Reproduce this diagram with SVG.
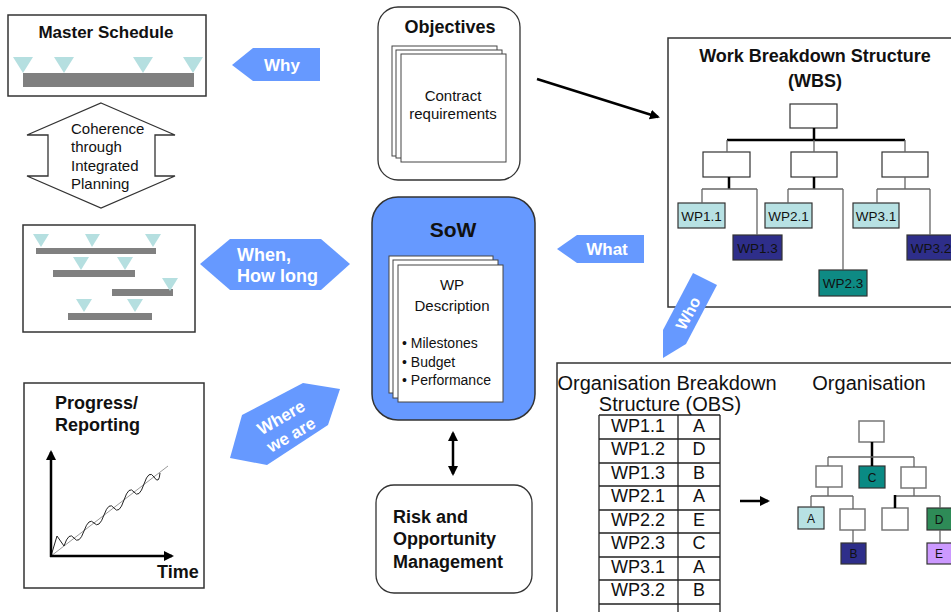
<svg xmlns="http://www.w3.org/2000/svg" width="951" height="612" viewBox="0 0 951 612">
<defs>
<style>
text { font-family: "Liberation Sans", Arial, sans-serif; fill: #111; }
.b { font-weight: bold; }
.frame { fill: #fff; stroke: #333; stroke-width: 1.5; }
.page { fill: #fff; stroke: #444; stroke-width: 1; }
.ms { fill: #b5dfe0; }
.bar { fill: #808080; }
.cue { fill: #6699ff; }
.cue-t { fill: #fff; font-weight: bold; }
.box { stroke: #333; stroke-width: 1.2; }
.obox { fill: #fff; stroke: #777; stroke-width: 1.5; }
.thin { stroke: #666; stroke-width: 1.3; fill: none; }
.thick { stroke: #000; stroke-width: 2.5; fill: none; }
.arr { stroke: #000; stroke-width: 2.5; fill: none; }
.cell { fill: none; stroke: #222; stroke-width: 1.3; }
.wp { font-size: 13.5px; text-anchor: middle; }
.ob { font-size: 12px; text-anchor: middle; }
.tb { font-size: 18px; text-anchor: middle; }
</style>
<marker id="ah" viewBox="0 0 10 10" refX="8" refY="5" markerWidth="4" markerHeight="4" orient="auto-start-reverse">
<path d="M0,0 L10,5 L0,10 z" fill="#000"/>
</marker>
</defs>

<rect width="951" height="612" fill="#fff"/>

<!-- Master schedule -->
<g id="master-schedule">
<rect class="frame" x="8" y="15" width="198" height="81"/>
<text class="b" x="106" y="38" font-size="17" text-anchor="middle">Master Schedule</text>
<rect class="bar" x="23" y="73" width="171" height="14"/>
<polygon class="ms" points="13,57 33,57 23,73"/>
<polygon class="ms" points="54,57 74,57 64,73"/>
<polygon class="ms" points="133,57 153,57 143,73"/>
<polygon class="ms" points="183,57 203,57 193,73"/>
</g>

<g id="why">
<polygon class="cue" points="232,65 253,48 320,48 320,81 253,81"/>
<text class="cue-t" x="282" y="71" font-size="17" text-anchor="middle">Why</text>
</g>

<g id="coherence">
<polygon points="101,103 175,135 155,135 155,176 175,176 101,208 27,176 48,176 48,135 27,135" fill="#fff" stroke="#333" stroke-width="1.3"/>
<text x="71" y="134" font-size="15">Coherence</text>
<text x="71" y="152" font-size="15">through</text>
<text x="71" y="171" font-size="15">Integrated</text>
<text x="71" y="189" font-size="15">Planning</text>
</g>

<!-- Detailed schedule -->
<g id="detailed-schedule">
<rect class="frame" x="23" y="225" width="172" height="107"/>
<rect class="bar" x="36" y="248" width="120" height="6"/>
<rect class="bar" x="53" y="270" width="82" height="7"/>
<rect class="bar" x="112" y="289" width="61" height="7"/>
<rect class="bar" x="68" y="313" width="84" height="7"/>
<polygon class="ms" points="33,234 49,234 41,247"/>
<polygon class="ms" points="85,234 100,234 92,247"/>
<polygon class="ms" points="145,234 161,234 153,247"/>
<polygon class="ms" points="73,257 89,257 81,270"/>
<polygon class="ms" points="117,257 133,257 125,270"/>
<polygon class="ms" points="162,278 178,278 170,291"/>
<polygon class="ms" points="76,299 92,299 84,312"/>
<polygon class="ms" points="127,299 143,299 135,312"/>
</g>

<g id="when">
<polygon class="cue" points="200,264 230,239 321,239 350,264 321,290 230,290"/>
<text class="cue-t" x="237" y="261" font-size="18">When,</text>
<text class="cue-t" x="237" y="282" font-size="18">How long</text>
</g>

<!-- Progress reporting -->
<g id="progress">
<rect class="frame" x="24" y="383" width="180" height="205"/>
<text class="b" x="55" y="409" font-size="18">Progress/</text>
<text class="b" x="55" y="431" font-size="18">Reporting</text>
<line x1="51" y1="556" x2="168" y2="466" stroke="#999" stroke-width="1"/>
<path d="M51,556 L57,536 L64,546 Q69,531 74,538 T84,531 T94,523 T104,515 T114,508 T124,500 T134,492 T144,484 T154,477 T160,473" fill="none" stroke="#222" stroke-width="1"/>
<line class="arr" x1="51" y1="557" x2="51" y2="452" marker-end="url(#ah)"/>
<line class="arr" x1="50" y1="556" x2="172" y2="556" marker-end="url(#ah)"/>
<text class="b" x="157" y="578" font-size="18">Time</text>
</g>

<g id="where">
<polygon class="cue" points="230,458 242,415 303,383 340,389 328,425 267,465"/>
<g transform="translate(286,426) rotate(-30)">
<text class="cue-t" x="0" y="-4" font-size="17" text-anchor="middle">Where</text>
<text class="cue-t" x="0" y="16" font-size="17" text-anchor="middle">we are</text>
</g>
</g>

<!-- Objectives -->
<g id="objectives">
<rect x="378" y="7" width="142" height="173" rx="20" fill="#fff" stroke="#333" stroke-width="1.3"/>
<text class="b" x="450" y="33" font-size="18" text-anchor="middle">Objectives</text>
<rect class="page" x="392" y="46" width="105" height="110"/>
<rect class="page" x="396" y="50" width="106" height="108"/>
<rect class="page" x="401" y="54" width="105" height="108"/>
<text x="453" y="101" font-size="15" text-anchor="middle">Contract</text>
<text x="453" y="119" font-size="15" text-anchor="middle">requirements</text>
</g>

<!-- Statement of work -->
<g id="sow">
<rect x="372" y="197" width="163" height="223" rx="26" fill="#6699ff" stroke="#333" stroke-width="1.5"/>
<text class="b" x="453" y="237" font-size="21" text-anchor="middle">SoW</text>
<rect class="page" x="389" y="256" width="104" height="137"/>
<rect class="page" x="393" y="260" width="105" height="138"/>
<rect class="page" x="398" y="265" width="105" height="137"/>
<text x="452" y="290" font-size="15" text-anchor="middle">WP</text>
<text x="452" y="311" font-size="15" text-anchor="middle">Description</text>
<text x="402" y="348" font-size="14">• Milestones</text>
<text x="402" y="367" font-size="14">• Budget</text>
<text x="402" y="385" font-size="14">• Performance</text>
</g>

<g id="what">
<polygon class="cue" points="557,249 577,235 644,235 644,263 577,263"/>
<text class="cue-t" x="607" y="255" font-size="17" text-anchor="middle">What</text>
</g>

<!-- Risk and opportunity -->
<g id="risk">
<rect x="376" y="485" width="156" height="108" rx="18" fill="#fff" stroke="#333" stroke-width="1.3"/>
<text class="b" x="393" y="523" font-size="18">Risk and</text>
<text class="b" x="393" y="545" font-size="18">Opportunity</text>
<text class="b" x="393" y="568" font-size="18">Management</text>
</g>

<!-- Work breakdown structure -->
<g id="wbs">
<rect class="frame" x="668" y="38" width="300" height="269"/>
<text class="b" x="815" y="62" font-size="18" text-anchor="middle">Work Breakdown Structure</text>
<text class="b" x="815" y="87" font-size="18" text-anchor="middle">(WBS)</text>
<rect class="box" x="790" y="104" width="47" height="24" fill="#fff"/>
<rect class="box" x="703" y="152" width="47" height="25" fill="#fff"/>
<rect class="box" x="791" y="152" width="46" height="25" fill="#fff"/>
<rect class="box" x="882" y="152" width="46" height="25" fill="#fff"/>
<rect class="box" x="678" y="203" width="47" height="25" fill="#b7e1e3"/>
<text class="wp" x="701.5" y="220.5">WP1.1</text>
<rect class="box" x="733" y="235" width="49" height="25" fill="#2e2e8a"/>
<text class="wp" x="757.5" y="252.5">WP1.3</text>
<rect class="box" x="765" y="203" width="47" height="25" fill="#b7e1e3"/>
<text class="wp" x="788.5" y="220.5">WP2.1</text>
<rect class="box" x="819" y="270" width="48" height="26" fill="#0e8a84"/>
<text class="wp" x="843" y="288">WP2.3</text>
<rect class="box" x="853" y="203" width="46" height="25" fill="#b7e1e3"/>
<text class="wp" x="876" y="220.5">WP3.1</text>
<rect class="box" x="907" y="235" width="50" height="25" fill="#2e2e8a"/>
<text class="wp" x="931" y="252.5">WP3.2</text>
</g>

<g id="who">
<polygon class="cue" points="693,273 717,285 686,344 663,358 663,330"/>
<text class="cue-t" x="0" y="0" font-size="16" text-anchor="middle" transform="translate(693,316) rotate(-62)">Who</text>
</g>

<!-- Organisation breakdown structure -->
<g id="obs">
<rect class="frame" x="557" y="363" width="410" height="260"/>
<text x="667" y="390" font-size="20" text-anchor="middle">Organisation Breakdown</text>
<text x="670" y="411" font-size="20" text-anchor="middle">Structure (OBS)</text>
<text x="869" y="390" font-size="20" text-anchor="middle">Organisation</text>
<path class="cell" d="M599,415 H720 M599,439 H720 M599,463 H720 M599,486 H720 M599,510 H720 M599,533 H720 M599,557 H720 M599,580 H720 M599,604 H720 M599,415 V612 M678,415 V612 M720,415 V612"/>
<text class="tb" x="638" y="432">WP1.1</text><text class="tb" x="699" y="432">A</text>
<text class="tb" x="638" y="455">WP1.2</text><text class="tb" x="699" y="455">D</text>
<text class="tb" x="638" y="479">WP1.3</text><text class="tb" x="699" y="479">B</text>
<text class="tb" x="638" y="502">WP2.1</text><text class="tb" x="699" y="502">A</text>
<text class="tb" x="638" y="526">WP2.2</text><text class="tb" x="699" y="526">E</text>
<text class="tb" x="638" y="549">WP2.3</text><text class="tb" x="699" y="549">C</text>
<text class="tb" x="638" y="573">WP3.1</text><text class="tb" x="699" y="573">A</text>
<text class="tb" x="638" y="596">WP3.2</text><text class="tb" x="699" y="596">B</text>
</g>

<!-- Organisation chart -->
<g id="org-chart">
<rect class="obox" x="859" y="421" width="25" height="21"/>
<rect class="obox" x="816" y="466" width="26" height="21"/>
<rect class="box" x="859" y="466" width="26" height="22" fill="#0a8a84"/>
<text class="ob" x="872" y="481.5">C</text>
<rect class="obox" x="901" y="467" width="25" height="21"/>
<rect class="box" x="798" y="507" width="26" height="22" fill="#b7e1e3" stroke="#777"/>
<text class="ob" x="811" y="522.5">A</text>
<rect class="obox" x="840" y="509" width="25" height="21"/>
<rect class="box" x="841" y="543" width="25" height="21" fill="#2e2e8a"/>
<text class="ob" x="853.5" y="558">B</text>
<rect class="obox" x="882" y="508" width="26" height="22"/>
<rect class="box" x="927" y="508" width="26" height="22" fill="#2e8b57"/>
<text class="ob" x="939" y="523.5">D</text>
<rect class="box" x="927" y="543" width="26" height="21" fill="#cc99ff"/>
<text class="ob" x="939" y="558">E</text>
</g>

<!-- Connectors -->
<g id="connectors">
<line class="arr" x1="537" y1="79" x2="658" y2="117" marker-end="url(#ah)"/>
<line class="arr" x1="453" y1="433" x2="453" y2="474" marker-start="url(#ah)" marker-end="url(#ah)"/>
<line class="arr" x1="740" y1="501" x2="768" y2="501" marker-end="url(#ah)"/>
<!-- WBS tree -->
<path class="thick" d="M814,128 V140 M727,140 H905 M729,177 V189 M814,177 V189"/>
<path class="thin" d="M727,140 V152 M814,140 V152 M905,140 V152 M702,189 H757 M702,189 V203 M757,189 V235 M788,189 H843 M788,189 V203 M843,189 V270 M905,177 V189 M877,189 H930 M877,189 V203 M930,189 V235"/>
<!-- organisation tree -->
<path class="thick" d="M872,442 V466"/>
<path class="thin" d="M828,457 H914 M828,457 V466 M914,457 V467 M828,487 V496 M811,496 H853 M811,496 V507 M853,496 V509 M853,530 V543 M914,488 V496 M895,496 H940 M940,496 V508 M940,530 V543"/>
<path class="thick" d="M895,495 V508" stroke-width="2"/>
</g>
</svg>
